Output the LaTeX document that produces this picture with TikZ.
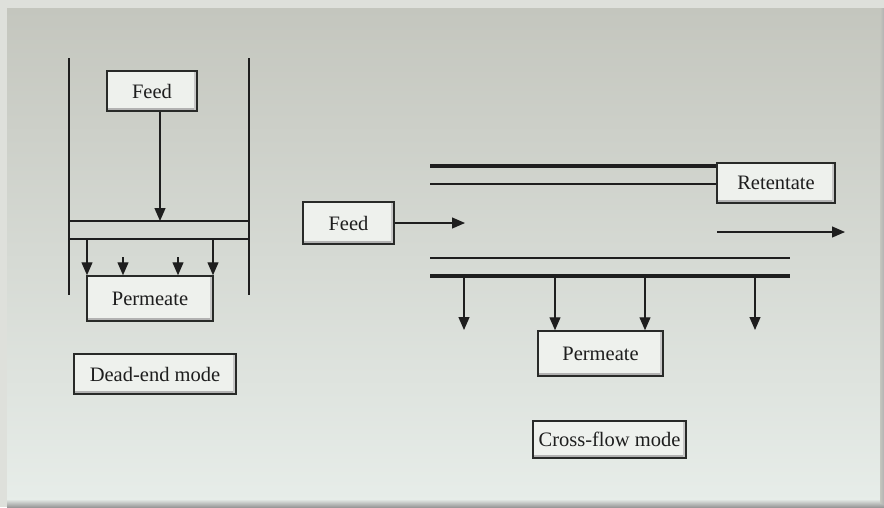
\documentclass[tikz,border=0pt]{standalone}
\usepackage{fontspec}
\setmainfont{Liberation Serif}
\usetikzlibrary{arrows.meta}
\definecolor{outerc}{RGB}{222,224,219}
\definecolor{paneltop}{RGB}{196,198,190}
\definecolor{panelbot}{RGB}{231,237,233}
\definecolor{boxfill}{RGB}{238,241,237}
\definecolor{boxline}{RGB}{40,42,40}
\definecolor{inkc}{RGB}{30,30,30}
\tikzset{
  box/.style={draw=boxline, line width=1.5pt, fill=boxfill, inner sep=0pt,
    font=\fontsize{20.5}{23}\selectfont, text=inkc,
    path picture={\fill[black!30] (path picture bounding box.south west) rectangle ([yshift=3pt]path picture bounding box.south east);
                  \fill[black!22] ([xshift=-3pt]path picture bounding box.south east) rectangle (path picture bounding box.north east);}},
  arr/.style={draw=inkc, line width=1.3pt, -{Triangle[length=13pt,width=11pt]}},
  thin/.style={draw=inkc, line width=1.5pt},
  thick/.style={draw=inkc, line width=4.5pt},
}
\begin{document}
\begin{tikzpicture}[x=1pt,y=-1pt]
\useasboundingbox (0,0) rectangle (884,507);
\fill[outerc] (0,0) rectangle (884,507);
\shade[top color=paneltop, bottom color=panelbot] (7,8) rectangle (882,503);
\shade[top color=panelbot, bottom color=black!40] (7,499) rectangle (884,507);
\shade[left color=paneltop, right color=black!30] (880,8) rectangle (884,503);

% ---------- Dead-end mode ----------
\draw[thin] (69,58) -- (69,295);
\draw[thin] (249,58) -- (249,295);
\draw[thin] (69,221) -- (249,221);
\draw[thin] (69,239) -- (249,239);
\node[box, minimum width=90pt, minimum height=40pt] (feedL) at (152,91) {Feed};
\coordinate (memL) at (160,221);
\draw[arr] (memL |- feedL.south) -- (memL);
\node[box, minimum width=126pt, minimum height=45pt] (permL) at (150,298.5) {Permeate};
\coordinate (pa) at (87,239);
\coordinate (pb) at (123,257);
\coordinate (pc) at (178,257);
\coordinate (pd) at (213,239);
\foreach \p in {pa,pb,pc,pd} \draw[arr] (\p) -- (\p |- permL.north);
\node[box, minimum width=162pt, minimum height=40pt] (deadend) at (155,374) {Dead-end mode};

% ---------- Cross-flow mode ----------
\node[box, minimum width=118pt, minimum height=40pt] (ret) at (776,183) {Retentate};
\draw[thick] (430,166) -- (ret.west |- 0,166);
\draw[thin] (430,184) -- (ret.west |- 0,184);
\node[box, minimum width=91pt, minimum height=42pt] (feedR) at (348.5,223) {Feed};
\coordinate (feedTip) at (465,223);
\draw[arr] (feedR.east) -- (feedTip);
\coordinate (retA) at (717,232);
\coordinate (retB) at (845,232);
\draw[arr] (retA) -- (retB);
\draw[thin] (430,258) -- (790,258);
\draw[thick] (430,276) -- (790,276);
\node[box, minimum width=125pt, minimum height=45pt] (permR) at (600.5,353.5) {Permeate};
\coordinate (qa) at (464,278);
\coordinate (qb) at (555,278);
\coordinate (qc) at (645,278);
\coordinate (qd) at (755,278);
\coordinate (qaE) at (464,330);
\coordinate (qdE) at (755,330);
\draw[arr] (qa) -- (qaE);
\draw[arr] (qb) -- (qb |- permR.north);
\draw[arr] (qc) -- (qc |- permR.north);
\draw[arr] (qd) -- (qdE);
\node[box, minimum width=153pt, minimum height=37pt] (cross) at (609.5,439.5) {Cross-flow mode};
\end{tikzpicture}
\end{document}
